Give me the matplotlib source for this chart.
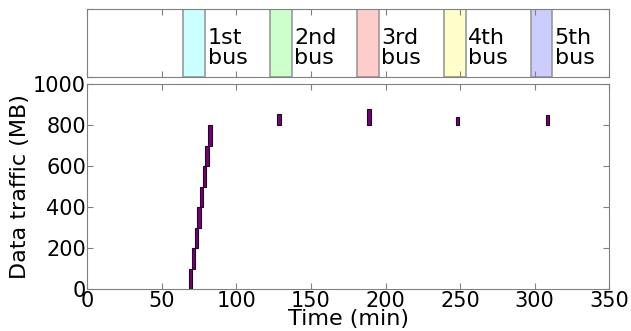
import matplotlib
matplotlib.use("Agg")
import matplotlib.pyplot as plt

# Data
step_times = [69.4, 71.1, 73.1, 74.9, 76.7, 78.5, 80.3, 82.3]
step_bottoms = [0, 100, 200, 300, 400, 500, 600, 700]
step_tops = [100, 200, 300, 400, 500, 600, 700, 800]
later_times = [128.6, 188.9, 248.4, 308.5]
later_bottoms = [800, 800, 800, 800]
later_tops = [855, 878, 840, 852]

bus_labels = ["1st\nbus", "2nd\nbus", "3rd\nbus", "4th\nbus", "5th\nbus"]
bus_starts = [64.2, 122.6, 180.9, 239.2, 297.6]
bus_ends = [79.1, 137.3, 195.6, 253.9, 311.9]
bus_colors = ["#ccffff", "#ccffcc", "#ffcccc", "#ffffcc", "#ccccff"]

x_ticks = [0, 50, 100, 150, 200, 250, 300, 350]
y_ticks = [0, 200, 400, 600, 800, 1000]

fs = 16
tfs = 15
spine_col = "#808080"

fig = plt.figure(figsize=(6.31, 3.31), dpi=100)
ax_top = fig.add_axes([87.3/631, 1-76.7/331, (609.3-87.3)/631, (76.7-9.3)/331])
ax = fig.add_axes([87.3/631, 1-289.3/331, (609.3-87.3)/631, (289.3-84.3)/331])

for a in (ax_top, ax):
    for s in a.spines.values():
        s.set_color(spine_col)
    a.tick_params(direction="in", top=True, right=True, colors=spine_col,
                  labelcolor="black", labelsize=tfs, length=4, pad=1)
    a.set_xlim(0, 350)
    a.set_xticks(x_ticks)

# Top panel: bus windows
for s, e, c, lab in zip(bus_starts, bus_ends, bus_colors, bus_labels):
    ax_top.axvspan(s, e, facecolor=c, edgecolor="#999999", linewidth=1.2)
    ax_top.text(e + 1.5, 0.42, lab, fontsize=fs, va="center", ha="left",
                linespacing=1.0)
ax_top.set_ylim(0, 1)
ax_top.tick_params(labelbottom=False, labelleft=False)

# Main panel: data traffic bars
bar_w = 2.2
ax.bar(step_times, [t - b for t, b in zip(step_tops, step_bottoms)],
       bottom=step_bottoms, width=bar_w, color="#6a0a6a",
       edgecolor="#2a002a", linewidth=0.8)
ax.bar(later_times, [t - b for t, b in zip(later_tops, later_bottoms)],
       bottom=later_bottoms, width=bar_w, color="#6a0a6a",
       edgecolor="#2a002a", linewidth=0.8)
ax.set_ylim(0, 1000)
ax.set_yticks(y_ticks)
ax.set_xlabel("Time (min)", fontsize=fs, labelpad=-1)
ax.set_ylabel("Data traffic (MB)", fontsize=fs, labelpad=2)

fig.savefig("out.png", dpi=100, facecolor="white")
